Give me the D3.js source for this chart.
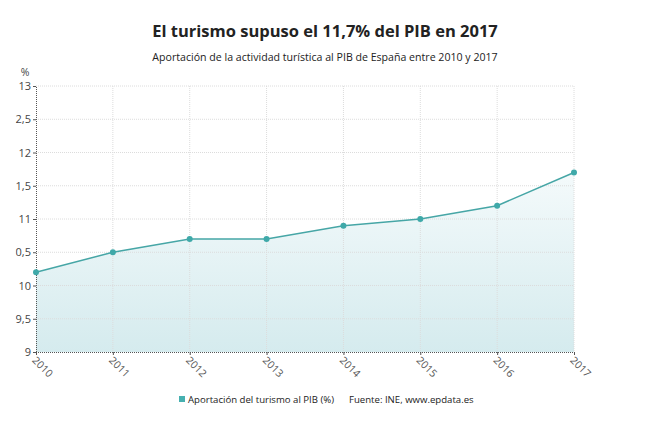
<!DOCTYPE html>
<html>
<head>
<meta charset="utf-8">
<title>Turismo PIB</title>
<script src="https://cdn.jsdelivr.net/npm/d3@7"></script>
<style>
  body { margin: 0; background: #fff; }
  text { font-family: "Open Sans", sans-serif; }
</style>
</head>
<body>
<script>
var years = ["2010", "2011", "2012", "2013", "2014", "2015", "2016", "2017"];
var values = [10.2, 10.5, 10.7, 10.7, 10.9, 11.0, 11.2, 11.7];
var yTicks = [9, 9.5, 10, 10.5, 11, 11.5, 12, 12.5, 13];

var width = 650, height = 438;
var plotLeft = 36, plotRight = 574, plotTop = 86, plotBottom = 352;

var svg = d3.select("body").append("svg")
  .attr("width", width)
  .attr("height", height);

var x = d3.scalePoint().domain(years).range([plotLeft, plotRight]);
var y = d3.scaleLinear().domain([9, 13]).range([plotBottom, plotTop]);
var fmt = function(d) { return String(d).replace(".", ","); };

// degradado del area
var defs = svg.append("defs");
var grad = defs.append("linearGradient")
  .attr("id", "g1").attr("x1", 0).attr("y1", 0).attr("x2", 0).attr("y2", 1);
grad.append("stop").attr("offset", "0%").attr("stop-color", "#f4fafb");
grad.append("stop").attr("offset", "100%").attr("stop-color", "#d5ebee");
// las etiquetas del eje y salen recortadas por la izquierda
defs.append("clipPath").attr("id", "lab")
  .append("rect").attr("x", 15.5).attr("y", -20).attr("width", 30).attr("height", 40);

// area
var data = years.map(function(d, i) { return {year: d, v: values[i]}; });
svg.append("path").datum(data)
  .attr("fill", "url(#g1)")
  .attr("d", d3.area().x(function(d) { return x(d.year); })
    .y0(plotBottom).y1(function(d) { return y(d.v); }));

// rejilla
svg.append("g").selectAll("line").data(yTicks.slice(1)).enter().append("line")
  .attr("x1", plotLeft).attr("x2", plotRight)
  .attr("y1", function(d) { return y(d); }).attr("y2", function(d) { return y(d); })
  .attr("stroke", "#dcdcdc").attr("stroke-dasharray", "1,1");
svg.append("g").selectAll("line").data(years.slice(1)).enter().append("line")
  .attr("x1", function(d) { return x(d); }).attr("x2", function(d) { return x(d); })
  .attr("y1", plotTop).attr("y2", plotBottom)
  .attr("stroke", "#dcdcdc").attr("stroke-dasharray", "1,1");

// ejes
var ya = svg.append("g").attr("transform", "translate(" + plotLeft + ",0)")
  .call(d3.axisLeft(y).tickValues(yTicks).tickFormat(fmt).tickSize(3).tickPadding(3));
ya.select(".domain").attr("stroke", "#555").attr("stroke-dasharray", "1,1");
ya.selectAll(".tick line").attr("stroke", "#555");
ya.selectAll("text").attr("fill", "#444").style("font-size", "11px")
  .attr("clip-path", "url(#lab)")
  .attr("transform", "translate(" + (-plotLeft) + ",0)")
  .attr("x", plotLeft - 5);

var xa = svg.append("g").attr("transform", "translate(0," + plotBottom + ")")
  .call(d3.axisBottom(x).tickSize(3));
xa.select(".domain").attr("stroke", "#555").attr("stroke-dasharray", "1,1");
xa.selectAll(".tick line").attr("stroke", "#555");
xa.selectAll("text").attr("fill", "#555").style("font-size", "10.5px")
  .attr("text-anchor", "start").attr("y", 0).attr("dy", 0)
  .attr("transform", "translate(-5,9) rotate(45)");

svg.append("text").attr("x", 25).attr("y", 76).attr("text-anchor", "middle")
  .attr("fill", "#444").style("font-size", "10.5px").text("%");

// linea y puntos
svg.append("path").datum(data)
  .attr("fill", "none").attr("stroke", "#46a6a6").attr("stroke-width", 1.5)
  .attr("d", d3.line().x(function(d) { return x(d.year); }).y(function(d) { return y(d.v); }));
svg.append("g").selectAll("circle").data(data).enter().append("circle")
  .attr("cx", function(d) { return x(d.year); })
  .attr("cy", function(d) { return y(d.v); })
  .attr("r", 3).attr("fill", "#3fa9a9");

// titulos
svg.append("text").attr("x", 325).attr("y", 37).attr("text-anchor", "middle")
  .attr("fill", "#222").style("font-size", "16.5px").style("font-weight", "bold")
  .text("El turismo supuso el 11,7% del PIB en 2017");
svg.append("text").attr("x", 325).attr("y", 61).attr("text-anchor", "middle")
  .attr("fill", "#222").style("font-size", "10.6px")
  .text("Aportación de la actividad turística al PIB de España entre 2010 y 2017");

// leyenda
svg.append("rect").attr("x", 179).attr("y", 396).attr("width", 6).attr("height", 6).attr("fill", "#46b0b0");
svg.append("text").attr("x", 188).attr("y", 403).attr("fill", "#222").style("font-size", "9.6px")
  .text("Aportación del turismo al PIB (%)");
svg.append("text").attr("x", 349).attr("y", 403).attr("fill", "#222").style("font-size", "9.6px")
  .text("Fuente: INE, www.epdata.es");
</script>
</body>
</html>
